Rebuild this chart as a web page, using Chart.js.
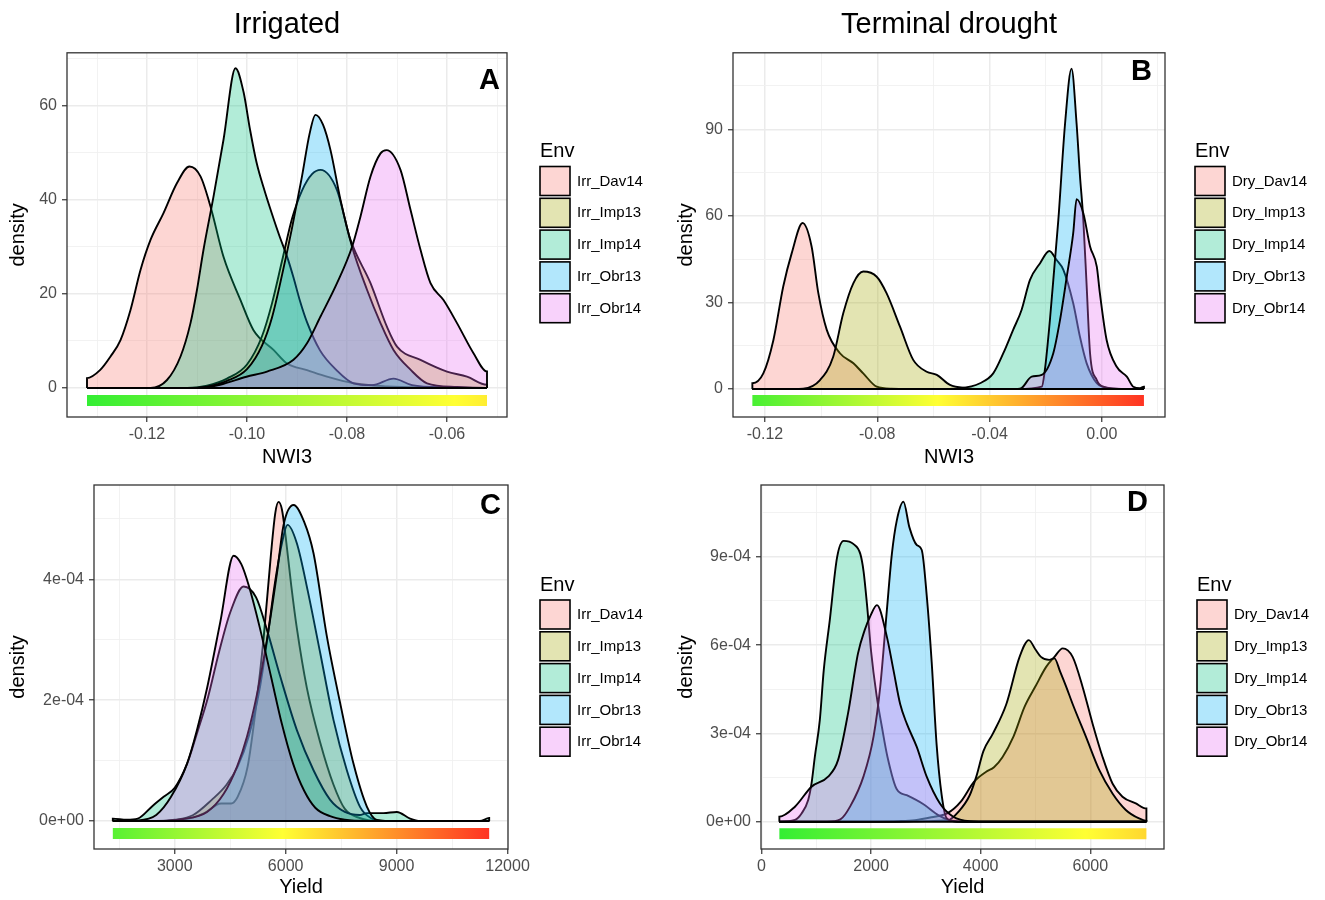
<!DOCTYPE html>
<html>
<head>
<meta charset="utf-8">
<script src="https://cdn.jsdelivr.net/npm/chart.js@4.4.1/dist/chart.umd.min.js"></script>
<style>
  body { margin: 0; background: #fff; }
  #wrap { position: relative; width: 1325px; height: 900px; }
  canvas { position: absolute; }
</style>
</head>
<body>
<div id="wrap">
  <canvas id="chartA" width="662" height="470" style="left:0;top:0"></canvas>
  <canvas id="chartB" width="663" height="470" style="left:662px;top:0"></canvas>
  <canvas id="chartC" width="662" height="430" style="left:0;top:470px"></canvas>
  <canvas id="chartD" width="663" height="430" style="left:662px;top:470px"></canvas>
</div>
<script>
Chart.defaults.font.family = '"Liberation Sans", Arial, Helvetica, sans-serif';
Chart.defaults.color = '#4d4d4d';
Chart.defaults.animation = false;

const irrEnvs = ['Irr_Dav14', 'Irr_Imp13', 'Irr_Imp14', 'Irr_Obr13', 'Irr_Obr14'];
const dryEnvs = ['Dry_Dav14', 'Dry_Imp13', 'Dry_Imp14', 'Dry_Obr13', 'Dry_Obr14'];
const envColors = ['#F8766D', '#A3A500', '#00BF7D', '#00B0F6', '#E76BF3'];

// A: NWI3 density, irrigated
const aDav14X = [-0.132, -0.1294, -0.1273, -0.1253, -0.1233, -0.1213, -0.1193, -0.1167, -0.114, -0.1115, -0.1093, -0.1073, -0.1047, -0.1013, -0.0987, -0.0947, -0.092, -0.088, -0.084, -0.0787, -0.072, -0.064, -0.052];
const aDav14Y = [2.1, 3.8, 6.7, 10.2, 16.6, 25.1, 31.5, 37.2, 43.6, 47.1, 45, 38.6, 27.9, 18.7, 12.3, 8.1, 5.2, 3.8, 2.4, 1.0, 0.35, 0.1, 0.02];
const aImp13X = [-0.132, -0.112, -0.108, -0.104, -0.1, -0.097, -0.095, -0.093, -0.091, -0.089, -0.087, -0.0853, -0.082, -0.0793, -0.0753, -0.072, -0.070, -0.0653, -0.060, -0.056, -0.052];
const aImp13Y = [0, 0, 0.5, 2, 5, 11, 18, 27, 36, 42, 45.5, 46.4, 42.1, 31.5, 22.3, 13, 8.8, 6.0, 3.5, 2.4, 0.7];
const aImp14X = [-0.132, -0.1193, -0.116, -0.1133, -0.1113, -0.110, -0.1087, -0.1067, -0.1047, -0.1023, -0.1007, -0.0994, -0.0981, -0.0965, -0.095, -0.0934, -0.092, -0.0907, -0.0894, -0.088, -0.0854, -0.0821, -0.0787, -0.075, -0.0707, -0.067, -0.06, -0.052];
const aImp14Y = [0, 0, 1.7, 6.7, 13.8, 20.9, 29.4, 40.7, 52.8, 68, 63, 55, 48, 42, 37, 32, 28, 23.5, 18.5, 14, 8, 3.8, 1.0, 0.6, 2.0, 0.6, 0.1, 0];
const aObr13X = [-0.132, -0.112, -0.108, -0.104, -0.1, -0.097, -0.095, -0.093, -0.091, -0.089, -0.0875, -0.0863, -0.0848, -0.0833, -0.0813, -0.079, -0.076, -0.0733, -0.0707, -0.0673, -0.064, -0.058, -0.052];
const aObr13Y = [0, 0, 0.3, 1.5, 4, 9, 15, 24, 34, 45, 54, 58.1, 56, 50.6, 40, 30.1, 20.9, 13.8, 8.1, 3.9, 1.0, 0.2, 0];
const aObr14X = [-0.132, -0.11, -0.1054, -0.1001, -0.096, -0.0907, -0.088, -0.0853, -0.082, -0.079, -0.0773, -0.0753, -0.0733, -0.0721, -0.0693, -0.0673, -0.0653, -0.0633, -0.0607, -0.058, -0.0547, -0.052];
const aObr14Y = [0, 0, 0.7, 2.4, 3.5, 6.0, 9.5, 15.2, 22.3, 30, 36.5, 45, 49.9, 50.6, 46.4, 37.9, 29.4, 22.3, 18.7, 13.8, 7.4, 3.5];

// B: NWI3 density, terminal drought
const bDav14X = [-0.1245, -0.1206, -0.117, -0.1135, -0.1105, -0.1066, -0.1034, -0.101, -0.098, -0.0933, -0.0885, -0.085, -0.0802, -0.075, -0.06, 0.015];
const bDav14Y = [2.0, 5.4, 17, 35.5, 47, 57.5, 49.4, 33.2, 20.5, 12.4, 8.9, 5.4, 0.8, 0.1, 0, 0];
const bImp13X = [-0.1245, -0.11, -0.1064, -0.1004, -0.0957, -0.0921, -0.0885, -0.085, -0.0802, -0.0767, -0.0719, -0.0672, -0.0624, -0.0588, -0.0541, -0.0482, -0.04, 0.015];
const bImp13Y = [0, 0, 0.1, 3.1, 11.2, 26.3, 36.7, 40.7, 38.9, 33.2, 21.6, 10.1, 6.0, 4.9, 1.4, 0.3, 0, 0];
const bImp14X = [-0.1245, -0.06, -0.0505, -0.0434, -0.0387, -0.0351, -0.0316, -0.0286, -0.0256, -0.022, -0.0187, -0.0161, -0.0137, -0.0102, -0.0078, -0.0054, -0.0018, 0.0004, 0.005, 0.015];
const bImp14Y = [0, 0, 0.3, 2, 5.4, 12.4, 20.5, 27.4, 37.8, 43.6, 47.8, 44.7, 41.3, 29.7, 18.1, 8.9, 2.0, 0.8, 0.1, 0];
const bObr13X = [-0.1245, -0.03, -0.0214, -0.0203, -0.0185, -0.0167, -0.0155, -0.0131, -0.0108, -0.009, -0.0078, -0.0066, -0.0054, -0.0042, -0.0018, 0.0004, 0.006, 0.015];
const bObr13Y = [0, 0, 0.8, 6.6, 23.9, 44.7, 58.6, 92, 111, 92, 74, 58.6, 35.5, 12.4, 3.1, 0.8, 0, 0];
const bObr14X = [-0.1245, -0.03, -0.0286, -0.025, -0.0214, -0.0173, -0.0149, -0.0125, -0.0102, -0.009, -0.0066, -0.0042, -0.0018, -0.0007, 0.0017, 0.0053, 0.0089, 0.0112, 0.0136, 0.015];
const bObr14Y = [0, 0, 0.3, 4.3, 4.9, 12.4, 23.9, 38.9, 54, 65.8, 60.9, 49.4, 42.4, 33.2, 17, 7.7, 4.3, 0.8, 0.3, 0.8];

// C: yield density, irrigated
const cDav14X = [1326, 2500, 3000, 3500, 3802, 4253, 4523, 4701, 4971, 5200, 5400, 5600, 5720, 5808, 5900, 6000, 6150, 6300, 6574, 6934, 7294, 7600, 8000, 8500, 11503];
const cDav14Y = [0, 0, 0.01e-4, 0.06e-4, 0.13e-4, 0.29e-4, 0.29e-4, 0.40e-4, 0.9e-4, 1.9e-4, 3.0e-4, 4.4e-4, 5.1e-4, 5.28e-4, 5.15e-4, 4.7e-4, 3.9e-4, 3.2e-4, 2.2e-4, 1.3e-4, 0.6e-4, 0.2e-4, 0.05e-4, 0, 0];
const cImp13X = [1326, 2500, 3000, 3500, 4000, 4400, 4700, 5000, 5300, 5500, 5700, 5900, 6050, 6300, 6600, 6934, 7294, 7654, 8014, 8300, 8700, 11503];
const cImp13Y = [0, 0, 0.02e-4, 0.1e-4, 0.35e-4, 0.6e-4, 0.9e-4, 1.4e-4, 2.2e-4, 3.0e-4, 3.9e-4, 4.6e-4, 4.9e-4, 4.6e-4, 3.8e-4, 2.78e-4, 1.67e-4, 0.84e-4, 0.23e-4, 0.05e-4, 0, 0];
const cImp14X = [1326, 1700, 2000, 2400, 2700, 3000, 3335, 3600, 3900, 4200, 4500, 4864, 5200, 5500, 5854, 6305, 6753, 7204, 7600, 8000, 8195, 8644, 9005, 9364, 9634, 11254, 11503];
const cImp14Y = [0.04e-4, 0.02e-4, 0.04e-4, 0.25e-4, 0.4e-4, 0.55e-4, 0.95e-4, 1.45e-4, 2.05e-4, 2.8e-4, 3.45e-4, 3.88e-4, 3.7e-4, 3.15e-4, 2.39e-4, 1.5e-4, 0.84e-4, 0.35e-4, 0.15e-4, 0.1e-4, 0.13e-4, 0.13e-4, 0.15e-4, 0.04e-4, 0, 0, 0.05e-4];
const cObr13X = [1326, 2500, 3200, 3875, 4325, 4685, 4955, 5225, 5495, 5765, 5943, 6213, 6500, 6753, 7115, 7474, 7833, 8195, 8465, 9000, 11503];
const cObr13Y = [0, 0, 0.03e-4, 0.15e-4, 0.45e-4, 0.9e-4, 1.4e-4, 2.1e-4, 3.0e-4, 4.1e-4, 4.9e-4, 5.23e-4, 4.95e-4, 4.43e-4, 3.05e-4, 1.95e-4, 0.95e-4, 0.24e-4, 0.02e-4, 0, 0];
const cObr14X = [1326, 2000, 2500, 2900, 3335, 3600, 3875, 4234, 4593, 4800, 5000, 5300, 5600, 5900, 6200, 6500, 6800, 7200, 7600, 8200, 11503];
const cObr14Y = [0, 0.01e-4, 0.1e-4, 0.4e-4, 0.95e-4, 1.5e-4, 2.2e-4, 3.3e-4, 4.39e-4, 4.25e-4, 3.9e-4, 3.2e-4, 2.4e-4, 1.6e-4, 0.95e-4, 0.5e-4, 0.22e-4, 0.08e-4, 0.02e-4, 0, 0];

// D: yield density, terminal drought
const dDav14X = [327, 1500, 2500, 2800, 3100, 3397, 3638, 3880, 4100, 4243, 4400, 4600, 4800, 5000, 5195, 5346, 5497, 5678, 5860, 6042, 6224, 6405, 6587, 6830, 7024];
const dDav14Y = [0, 0, 0.02e-4, 0.05e-4, 0.15e-4, 0.29e-4, 0.68e-4, 1.36e-4, 1.7e-4, 1.85e-4, 2.2e-4, 2.9e-4, 3.9e-4, 4.6e-4, 5.26e-4, 5.6e-4, 5.89e-4, 5.6e-4, 4.58e-4, 3.33e-4, 2.2e-4, 1.3e-4, 0.85e-4, 0.62e-4, 0.45e-4];
const dImp13X = [327, 2500, 3000, 3400, 3600, 3800, 3923, 4050, 4225, 4469, 4710, 4879, 5000, 5100, 5250, 5346, 5450, 5558, 5678, 5920, 6163, 6405, 6648, 6890, 7024];
const dImp13Y = [0, 0, 0.02e-4, 0.05e-4, 0.35e-4, 0.9e-4, 1.55e-4, 2.4e-4, 3.0e-4, 4.0e-4, 5.6e-4, 6.17e-4, 5.85e-4, 5.6e-4, 5.5e-4, 5.55e-4, 5.1e-4, 4.6e-4, 4.0e-4, 2.89e-4, 1.76e-4, 0.96e-4, 0.4e-4, 0.11e-4, 0.03e-4];
const dImp14X = [327, 611, 732, 853, 914, 974, 1065, 1137, 1247, 1380, 1500, 1682, 1804, 1864, 1925, 2000, 2100, 2200, 2300, 2470, 2650, 2950, 3250, 3500, 4000, 7024];
const dImp14Y = [0, 0.06e-4, 0.28e-4, 0.74e-4, 1.3e-4, 2.2e-4, 3.45e-4, 5.15e-4, 6.85e-4, 8.98e-4, 9.54e-4, 9.43e-4, 9.1e-4, 8.5e-4, 7.4e-4, 5.8e-4, 4.3e-4, 3.2e-4, 2.2e-4, 1.1e-4, 0.9e-4, 0.6e-4, 0.2e-4, 0.03e-4, 0, 0];
const dObr13X = [327, 1200, 1440, 1622, 1864, 2046, 2168, 2289, 2380, 2470, 2591, 2700, 2834, 2925, 3015, 3106, 3197, 3288, 3379, 3560, 7024];
const dObr13Y = [0, 0, 0.08e-4, 0.53e-4, 1.55e-4, 2.9e-4, 4.6e-4, 7.2e-4, 9.1e-4, 10.24e-4, 10.87e-4, 10.0e-4, 9.4e-4, 9.23e-4, 7.7e-4, 5.43e-4, 2.6e-4, 0.91e-4, 0.12e-4, 0, 0];
const dObr14X = [327, 611, 914, 1217, 1399, 1580, 1762, 1882, 1990, 2107, 2289, 2409, 2531, 2652, 2834, 3015, 3257, 3500, 3800, 4200, 7024];
const dObr14Y = [0.17e-4, 0.51e-4, 1.19e-4, 1.53e-4, 2.1e-4, 3.68e-4, 5.72e-4, 6.5e-4, 7.0e-4, 7.36e-4, 6.28e-4, 5.15e-4, 4.0e-4, 3.33e-4, 2.54e-4, 1.53e-4, 0.62e-4, 0.17e-4, 0.02e-4, 0, 0];

// colour bar under each panel: [from, to, level], and the shared colour ranges
const aBar = [-0.132, -0.052, -2.66];
const bBar = [-0.1245, 0.015, -4.0];
const cBar = [1326, 11503, -2.07e-5];
const dBar = [327, 7024, -4.1e-5];
const nwiRange = [-0.132, 0.015];
const yieldRange = [327, 11503];

// axis ticks
const aXTicks = [-0.12, -0.10, -0.08, -0.06], aXLabels = ['-0.12', '-0.10', '-0.08', '-0.06'];
const aYTicks = [0, 20, 40, 60], aYLabels = ['0', '20', '40', '60'];
const bXTicks = [-0.12, -0.08, -0.04, 0.00], bXLabels = ['-0.12', '-0.08', '-0.04', '0.00'];
const bYTicks = [0, 30, 60, 90], bYLabels = ['0', '30', '60', '90'];
const cXTicks = [3000, 6000, 9000, 12000], cXLabels = ['3000', '6000', '9000', '12000'];
const cYTicks = [0, 2e-4, 4e-4], cYLabels = ['0e+00', '2e-04', '4e-04'];
const dXTicks = [0, 2000, 4000, 6000], dXLabels = ['0', '2000', '4000', '6000'];
const dYTicks = [0, 3e-4, 6e-4, 9e-4], dYLabels = ['0e+00', '3e-04', '6e-04', '9e-04'];

function fade(hex, a) {
  const n = parseInt(hex.slice(1), 16);
  return 'rgba(' + (n >> 16) + ',' + ((n >> 8) & 255) + ',' + (n & 255) + ',' + a + ')';
}

// closed density outline: drop to zero at both ends like a polygon
function outline(xs, ys) {
  const pts = xs.map((x, i) => ({x: x, y: ys[i]}));
  return [{x: xs[0], y: 0}].concat(pts, [{x: xs[xs.length - 1], y: 0}]);
}

// major ticks plus the minor ones halfway between
function gridTicks(major, min, max) {
  const half = (major[1] - major[0]) / 2;
  const out = [];
  for (let k = Math.ceil((min - major[0]) / half - 1e-9); major[0] + k * half <= max + 1e-12; k++) {
    out.push({value: Number((major[0] + k * half).toPrecision(10)), isMajor: k % 2 === 0});
  }
  return out;
}

function ramp(chart, range) {
  const s = chart.scales.x;
  if (!chart.chartArea || !s) return '#ffff33';
  const g = chart.ctx.createLinearGradient(s.getPixelForValue(range[0]), 0, s.getPixelForValue(range[1]), 0);
  g.addColorStop(0, '#33ee33');
  g.addColorStop(0.5, '#ffff33');
  g.addColorStop(1, '#ff3322');
  return g;
}

function axis(o) {
  const half = (o.major[1] - o.major[0]) / 2;
  return {
    type: 'linear',
    bounds: 'data',
    min: o.min,
    max: o.max,
    afterBuildTicks: s => { s.ticks = gridTicks(o.major, o.min, o.max); },
    afterFit: s => {
      if (o.width) s.width = o.width;
      if (o.height) s.height = o.height;
    },
    ticks: {
      autoSkip: false, maxRotation: 0, minRotation: 0,
      padding: o.pad, color: '#4d4d4d', font: {size: 16},
      callback: (v, i, ts) => {
        if (!ts[i].isMajor) return '';
        const j = o.major.findIndex(m => Math.abs(m - v) < half / 10);
        return j < 0 ? '' : o.labels[j];
      }
    },
    grid: {
      color: c => (c.tick && c.tick.isMajor) ? '#ebebeb' : '#f0f0f0',
      lineWidth: c => (c.tick && c.tick.isMajor) ? 1.5 : 0.9,
      tickColor: c => (c.tick && c.tick.isMajor) ? '#333333' : 'rgba(0,0,0,0)',
      tickLength: 5,
      tickWidth: 1.2
    },
    border: {display: false},
    title: {display: true, text: o.title, color: '#000', font: {size: 20}, padding: o.titlePad}
  };
}

const decor = {
  id: 'decor',
  afterDatasetsDraw(chart, args, o) {
    const ctx = chart.ctx, a = chart.chartArea;
    const fam = '"Liberation Sans", Arial, Helvetica, sans-serif';
    ctx.save();
    ctx.strokeStyle = '#333333';
    ctx.lineWidth = 1.3;
    ctx.strokeRect(a.left, a.top, a.right - a.left, a.bottom - a.top);

    ctx.fillStyle = '#000';
    ctx.font = 'bold 29px ' + fam;
    ctx.textAlign = 'right';
    ctx.textBaseline = 'middle';
    ctx.fillText(o.tag, a.right - o.tagDx, a.top + o.tagDy);

    ctx.textAlign = 'left';
    ctx.font = '20px ' + fam;
    ctx.fillText('Env', o.lx, o.ly - 15);
    ctx.font = '15px ' + fam;
    chart.data.datasets.forEach((ds, i) => {
      if (!ds.env) return;
      const y = o.ly + i * 31.8;
      ctx.fillStyle = '#fff';
      ctx.fillRect(o.lx, y, 30, 29);
      ctx.fillStyle = ds.backgroundColor;
      ctx.fillRect(o.lx, y, 30, 29);
      ctx.strokeStyle = '#000';
      ctx.lineWidth = 1.6;
      ctx.strokeRect(o.lx, y, 30, 29);
      ctx.fillStyle = '#000';
      ctx.fillText(ds.label, o.lx + 37, y + 15);
    });
    ctx.restore();
  }
};

function makePanel(id, p) {
  const sets = p.envs.map((name, i) => ({
    label: name,
    env: true,
    data: outline(p.xs[i], p.ys[i]),
    backgroundColor: fade(envColors[i], 0.3),
    borderColor: '#000',
    borderWidth: 1.9,
    fill: 'origin',
    pointRadius: 0,
    cubicInterpolationMode: 'monotone',
    order: p.envs.length - i + 1
  }));
  sets.push({
    label: 'bar',
    data: [{x: p.bar[0], y: p.bar[2]}, {x: p.bar[1], y: p.bar[2]}],
    borderColor: c => ramp(c.chart, p.range),
    borderWidth: 11,
    borderCapStyle: 'butt',
    pointRadius: 0,
    fill: false,
    order: 1
  });
  sets.push({
    label: 'base',
    data: [{x: p.bar[0], y: 0}, {x: p.bar[1], y: 0}],
    borderColor: '#000',
    borderWidth: 1.9,
    pointRadius: 0,
    fill: false,
    order: 0
  });

  new Chart(document.getElementById(id), {
    type: 'line',
    data: {datasets: sets},
    options: {
      responsive: false,
      animation: false,
      layout: {padding: p.padding},
      scales: {x: p.x, y: p.y},
      plugins: {
        legend: {display: false},
        tooltip: {enabled: false},
        title: p.title ? {
          display: true, text: p.title, fullSize: false, color: '#000',
          font: {size: 29, weight: 'normal'}, padding: {top: 8, bottom: 10}
        } : {display: false},
        decor: p.decor
      }
    },
    plugins: [decor]
  });
}

makePanel('chartA', {
  envs: irrEnvs,
  xs: [aDav14X, aImp13X, aImp14X, aObr13X, aObr14X],
  ys: [aDav14Y, aImp13Y, aImp14Y, aObr13Y, aObr14Y],
  bar: aBar, range: nwiRange, title: 'Irrigated',
  padding: {left: 0, top: 0, right: 155, bottom: 0},
  x: axis({min: -0.136, max: -0.048, major: aXTicks, labels: aXLabels, height: 53, pad: 3, title: 'NWI3', titlePad: {top: 0, bottom: 1}}),
  y: axis({min: -6.17, max: 71.3, major: aYTicks, labels: aYLabels, width: 67, pad: 5, title: 'density', titlePad: {top: 6, bottom: 0}}),
  decor: {tag: 'A', tagDx: 7, tagDy: 28, lx: 540, ly: 166.5}
});

makePanel('chartB', {
  envs: dryEnvs,
  xs: [bDav14X, bImp13X, bImp14X, bObr13X, bObr14X],
  ys: [bDav14Y, bImp13Y, bImp14Y, bObr13Y, bObr14Y],
  bar: bBar, range: nwiRange, title: 'Terminal drought',
  padding: {left: 0, top: 0, right: 160, bottom: 0},
  x: axis({min: -0.1314, max: 0.0225, major: bXTicks, labels: bXLabels, height: 53, pad: 3, title: 'NWI3', titlePad: {top: 0, bottom: 1}}),
  y: axis({min: -9.7, max: 116.5, major: bYTicks, labels: bYLabels, width: 71, pad: 5, title: 'density', titlePad: {top: 12, bottom: 0}}),
  decor: {tag: 'B', tagDx: 13, tagDy: 19.5, lx: 533, ly: 166.5}
});

makePanel('chartC', {
  envs: irrEnvs,
  xs: [cDav14X, cImp13X, cImp14X, cObr13X, cObr14X],
  ys: [cDav14Y, cImp13Y, cImp14Y, cObr13Y, cObr14Y],
  bar: cBar, range: yieldRange, title: null,
  padding: {left: 0, top: 15, right: 154, bottom: 0},
  x: axis({min: 817, max: 12012, major: cXTicks, labels: cXLabels, height: 51, pad: 3, title: 'Yield', titlePad: {top: 0, bottom: 1}}),
  y: axis({min: -0.463e-4, max: 5.56e-4, major: cYTicks, labels: cYLabels, width: 94, pad: 5, title: 'density', titlePad: {top: 6, bottom: 0}}),
  decor: {tag: 'C', tagDx: 7, tagDy: 21, lx: 540, ly: 130}
});

makePanel('chartD', {
  envs: dryEnvs,
  xs: [dDav14X, dImp13X, dImp14X, dObr13X, dObr14X],
  ys: [dDav14Y, dImp13Y, dImp14Y, dObr13Y, dObr14Y],
  bar: dBar, range: yieldRange, title: null,
  padding: {left: 0, top: 15, right: 161, bottom: 0},
  x: axis({min: -8, max: 7345, major: dXTicks, labels: dXLabels, height: 51, pad: 3, title: 'Yield', titlePad: {top: 0, bottom: 1}}),
  y: axis({min: -0.927e-4, max: 11.44e-4, major: dYTicks, labels: dYLabels, width: 99, pad: 5, title: 'density', titlePad: {top: 12, bottom: 0}}),
  decor: {tag: 'D', tagDx: 16, tagDy: 18, lx: 535, ly: 130}
});
</script>
</body>
</html>
